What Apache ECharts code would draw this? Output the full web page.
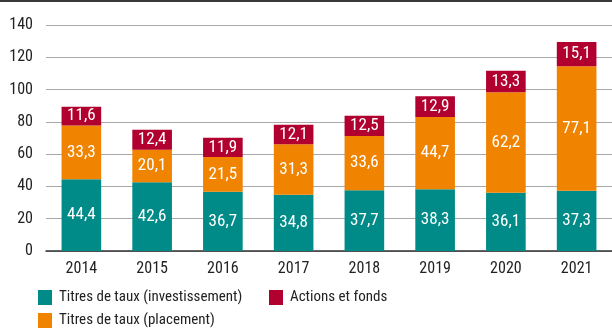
<!DOCTYPE html>
<html>
<head>
<meta charset="utf-8">
<script src="https://cdn.jsdelivr.net/npm/echarts@6/dist/echarts.min.js"></script>
<style>
  html, body { margin: 0; padding: 0; background: #fff; }
  #chart { width: 612px; height: 329px; }
</style>
</head>
<body>
<div id="chart"></div>
<script>
// Years on the category axis
const years = ['2014', '2015', '2016', '2017', '2018', '2019', '2020', '2021'];
// Stacked series values
const investissement = [44.4, 42.6, 36.7, 34.8, 37.7, 38.3, 36.1, 37.3];
const placement = [33.3, 20.1, 21.5, 31.3, 33.6, 44.7, 62.2, 77.1];
const actions = [11.6, 12.4, 11.9, 12.1, 12.5, 12.9, 13.3, 15.1];
// Value axis ticks
const yTicks = [0, 20, 40, 60, 80, 100, 120, 140];

const FONT = '"Roboto Condensed", "Liberation Sans Narrow", sans-serif';
const fmt = v => String(v).replace('.', ',');

const NAMES = {
  inv: 'Titres de taux (investissement)',
  pla: 'Titres de taux (placement)',
  act: 'Actions et fonds'
};

function segmentLabel() {
  return {
    show: true,
    position: 'inside',
    color: '#fff',
    fontFamily: FONT,
    fontSize: 17,
    formatter: p => fmt(p.value)
  };
}

function legendAt(name, left, top) {
  return {
    data: [name],
    left: left,
    top: top,
    padding: 0,
    itemWidth: 14,
    itemHeight: 15,
    itemGap: 0,
    icon: 'rect',
    selectedMode: false,
    textStyle: { fontFamily: FONT, fontSize: 15, color: '#222', padding: [0, 0, 0, 2] }
  };
}

const chart = echarts.init(document.getElementById('chart'), null, { renderer: 'canvas' });
chart.setOption({
  animation: false,
  textStyle: { fontFamily: FONT },
  graphic: [{
    type: 'rect',
    shape: { x: 0, y: 0, width: 612, height: 2 },
    style: { fill: '#3a3a3a' }
  }],
  grid: { left: 46, right: 0, top: 25, bottom: 78, containLabel: false },
  legend: [
    legendAt(NAMES.inv, 38, 290),
    legendAt(NAMES.act, 269, 290),
    legendAt(NAMES.pla, 38, 313)
  ],
  xAxis: {
    type: 'category',
    data: years,
    axisLine: { lineStyle: { color: '#333', width: 1.5 } },
    axisTick: { show: false },
    axisLabel: { color: '#222', fontFamily: FONT, fontSize: 16, margin: 10 }
  },
  yAxis: {
    type: 'value',
    min: yTicks[0],
    max: yTicks[yTicks.length - 1],
    interval: 20,
    axisLine: { show: false },
    axisTick: { show: false },
    axisLabel: { color: '#222', fontFamily: FONT, fontSize: 16, margin: 13 },
    splitLine: { lineStyle: { color: '#a8a8a8', width: 1 } }
  },
  series: [
    {
      name: NAMES.inv,
      type: 'bar', stack: 'total', barWidth: '56%',
      itemStyle: { color: '#008b88' },
      label: segmentLabel(),
      data: investissement
    },
    {
      name: NAMES.pla,
      type: 'bar', stack: 'total',
      itemStyle: { color: '#f08300' },
      label: segmentLabel(),
      data: placement
    },
    {
      name: NAMES.act,
      type: 'bar', stack: 'total',
      itemStyle: { color: '#b1002f' },
      label: segmentLabel(),
      data: actions
    }
  ]
});
</script>
</body>
</html>
